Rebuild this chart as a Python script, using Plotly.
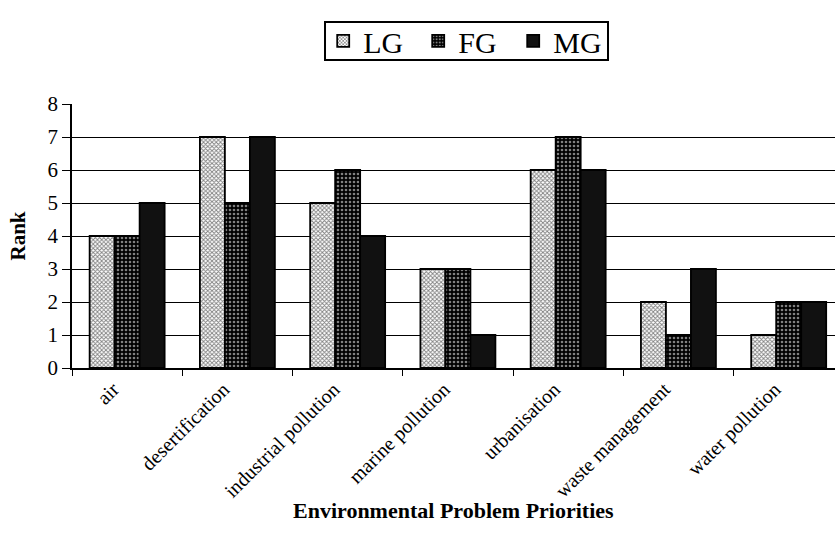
import plotly.graph_objects as go

categories = ["air", "desertification", "industrial pollution", "marine pollution",
              "urbanisation", "waste management", "water pollution"]
lg = [4, 7, 5, 3, 6, 2, 1]
fg = [4, 5, 6, 3, 7, 1, 2]
mg = [5, 7, 4, 1, 6, 3, 2]

serif = "Liberation Serif, Times New Roman, serif"
line = dict(color="black", width=1.8)

fig = go.Figure()
fig.add_bar(name="LG", x=categories, y=lg,
            marker=dict(color="white", line=line,
                        pattern=dict(shape="x", fgcolor="black", bgcolor="white",
                                     size=3, solidity=0.5)))
fig.add_bar(name="FG", x=categories, y=fg,
            marker=dict(color="black", line=line,
                        pattern=dict(shape=".", fgcolor="white", bgcolor="black",
                                     size=4, solidity=0.35)))
fig.add_bar(name="MG", x=categories, y=mg,
            marker=dict(color="#111111", line=line))

# legend frame drawn as a shape so its height can be kept tight
fig.add_shape(type="rect", xref="paper", yref="paper",
              x0=0.3316, x1=0.7025, y0=1.1667, y1=1.3106,
              line=dict(color="black", width=2), fillcolor="rgba(0,0,0,0)",
              layer="above")

# x-axis title
fig.add_annotation(text="<b>Environmental Problem Priorities</b>",
                   xref="paper", yref="paper", x=0.5, y=-0.538,
                   xanchor="center", yanchor="middle", showarrow=False,
                   font=dict(size=22, family=serif, color="black"))

fig.update_layout(
    width=835, height=545,
    margin=dict(l=72, r=0, t=104, b=177, autoexpand=False),
    paper_bgcolor="white", plot_bgcolor="white",
    barmode="group", bargap=0.32, bargroupgap=0,
    font=dict(family=serif, color="black"),
    legend=dict(orientation="h", x=0.516, xref="paper", xanchor="center",
                y=1.239, yanchor="middle",
                font=dict(size=30, family=serif, color="black"),
                borderwidth=0, bgcolor="rgba(0,0,0,0)",
                entrywidth=50, tracegroupgap=0),
    showlegend=True,
)
fig.update_xaxes(
    range=[-0.5, 6.42], tickson="boundaries", ticks="outside", ticklen=6,
    tickcolor="black", showline=True, linecolor="black", linewidth=1.5,
    tickangle=-45, ticklabelshift=-14,
    tickfont=dict(size=20, family=serif, color="black"),
    showgrid=False,
)
fig.update_yaxes(
    range=[0, 8], dtick=1, ticks="outside", ticklen=8, tickcolor="black",
    showline=True, linecolor="black", linewidth=1.5,
    showgrid=True, gridcolor="black", gridwidth=1.2,
    tickfont=dict(size=21, family=serif, color="black"),
    title=dict(text="<b>Rank</b>", font=dict(size=21, family=serif, color="black"),
               standoff=16),
    zeroline=False,
)

fig.write_html("out.html")
